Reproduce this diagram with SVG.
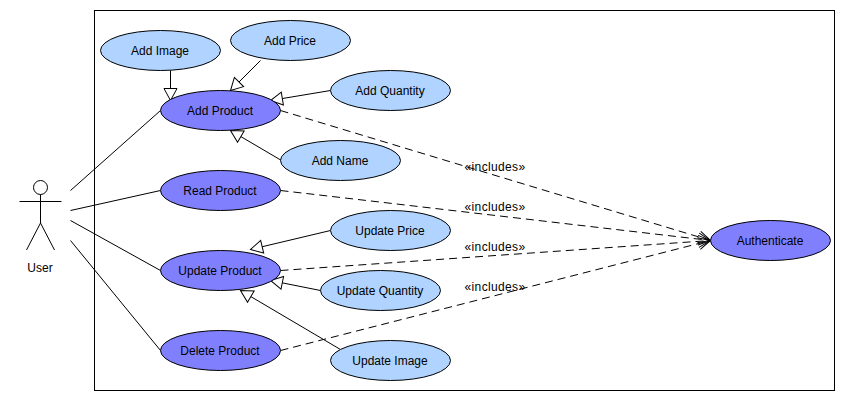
<svg xmlns="http://www.w3.org/2000/svg" width="844" height="400" viewBox="0 0 844 400">
<style>
text{font-family:"Liberation Sans",Arial,sans-serif;font-size:12px;fill:#000;text-anchor:middle}
.uc{stroke:#000;stroke-width:1}
.d{fill:#8080ff}
.l{fill:#b0d4ff}
.c line{stroke:#000;stroke-width:1;fill:none}
.c .g{marker-end:url(#tri)}
.c .i{stroke-dasharray:8 5;marker-end:url(#open)}
.a{stroke:#000;stroke-width:1;fill:none}
.inc{letter-spacing:.35px}
</style>
<defs>
<marker id="tri" markerUnits="userSpaceOnUse" markerWidth="16" markerHeight="16" refX="13" refY="8" orient="auto" overflow="visible"><path d="M1 1.5L13 8L1 14.500Z" fill="#fff" stroke="#000" stroke-width="1"/></marker>
<marker id="open" markerUnits="userSpaceOnUse" markerWidth="16" markerHeight="16" refX="13" refY="8" orient="auto" overflow="visible"><path d="M1 2L13 8L1 14" fill="none" stroke="#000" stroke-width="1"/></marker>
</defs>
<rect x="94.500" y="10.500" width="740" height="380" fill="#fff" stroke="#000"/>
<g id="connectors" class="c" transform="translate(.5 .5)">
<line x1="70" y1="190" x2="160" y2="110"/>
<line x1="70" y1="210" x2="160" y2="190"/>
<line x1="70" y1="220" x2="160" y2="270"/>
<line x1="70" y1="240" x2="160" y2="350"/>
<line class="g" x1="170" y1="70" x2="170" y2="100"/>
<line class="g" x1="260" y1="60" x2="230" y2="90"/>
<line class="g" x1="330" y1="90" x2="270" y2="100"/>
<line class="g" x1="281" y1="160" x2="230" y2="130"/>
<line class="g" x1="330" y1="230" x2="250" y2="249"/>
<line class="g" x1="320" y1="290" x2="270" y2="280"/>
<line class="g" x1="340" y1="349" x2="240" y2="290"/>
<line class="i" x1="280" y1="110" x2="710" y2="240"/>
<line class="i" x1="280" y1="190" x2="710" y2="240"/>
<line class="i" x1="280" y1="270" x2="710" y2="240"/>
<line class="i" x1="280" y1="350" x2="710" y2="240"/>
</g>
<g id="labels">
<text class="inc" x="495" y="171">«includes»</text>
<text class="inc" x="495" y="211">«includes»</text>
<text class="inc" x="495" y="251">«includes»</text>
<text class="inc" x="495" y="291">«includes»</text>
</g>
<g id="actor-user">
<circle class="a" cx="40.500" cy="187.500" r="7"/>
<path class="a" d="M19.500 201.500H61.500M40.500 194.500V223M40.500 223L26.500 250M40.500 223L54.500 250"/>
<text x="40" y="272">User</text>
</g>
<g id="add-image"><ellipse class="uc l" cx="160.500" cy="50.500" rx="60" ry="20"/><text x="160" y="55">Add Image</text></g>
<g id="add-price"><ellipse class="uc l" cx="290.500" cy="40.500" rx="60" ry="20"/><text x="290" y="45">Add Price</text></g>
<g id="add-product"><ellipse class="uc d" cx="220.500" cy="110.500" rx="60" ry="20"/><text x="220" y="115">Add Product</text></g>
<g id="add-quantity"><ellipse class="uc l" cx="390.500" cy="90.500" rx="60" ry="20"/><text x="390" y="95">Add Quantity</text></g>
<g id="add-name"><ellipse class="uc l" cx="340.500" cy="160.500" rx="60" ry="20"/><text x="340" y="165">Add Name</text></g>
<g id="read-product"><ellipse class="uc d" cx="220.500" cy="190.500" rx="60" ry="20"/><text x="220" y="195">Read Product</text></g>
<g id="update-price"><ellipse class="uc l" cx="390.500" cy="230.500" rx="60" ry="20"/><text x="390" y="235">Update Price</text></g>
<g id="update-product"><ellipse class="uc d" cx="220.500" cy="270.500" rx="60" ry="20"/><text x="220" y="275">Update Product</text></g>
<g id="update-quantity"><ellipse class="uc l" cx="380.500" cy="290.500" rx="60" ry="20"/><text x="380" y="295">Update Quantity</text></g>
<g id="update-image"><ellipse class="uc l" cx="390.500" cy="360.500" rx="60" ry="20"/><text x="390" y="365">Update Image</text></g>
<g id="delete-product"><ellipse class="uc d" cx="220.500" cy="350.500" rx="60" ry="20"/><text x="220" y="355">Delete Product</text></g>
<g id="authenticate"><ellipse class="uc d" cx="770.500" cy="240.500" rx="60" ry="20"/><text x="770" y="245">Authenticate</text></g>
</svg>
